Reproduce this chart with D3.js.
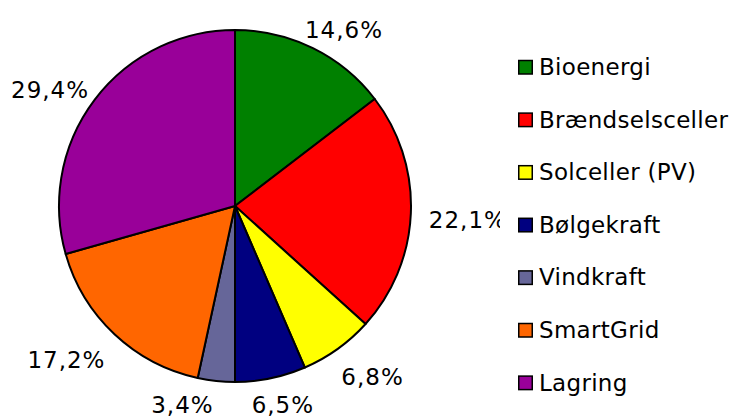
<!DOCTYPE html>
<html>
<head>
<meta charset="utf-8">
<script src="https://cdn.jsdelivr.net/npm/d3@7"></script>
<style>
  body { margin: 0; background: #fff; }
  svg { display: block; }
  text { font-family: "DejaVu Sans", Verdana, sans-serif; fill: #000; }
</style>
</head>
<body>
<svg id="chart" width="729" height="417"></svg>
<script>
// chart data
const categories = ["Bioenergi", "Brændselsceller", "Solceller (PV)", "Bølgekraft", "Vindkraft", "SmartGrid", "Lagring"];
const shares = [14.6, 22.1, 6.8, 6.5, 3.4, 17.2, 29.4];
const colors = ["#008000", "#ff0000", "#ffff00", "#000080", "#666699", "#ff6600", "#990099"];

const svg = d3.select("#chart");
const W = 729, H = 417;
const cx = 235, cy = 206, radius = 176;
const fontSize = 23;

const pie = d3.pie().sort(null).value(d => d.value);
const arc = d3.arc().innerRadius(0).outerRadius(radius);

const data = categories.map((c, i) => ({ name: c, value: shares[i], color: colors[i] }));
const arcs = pie(data);

// the plot area ends before the legend, labels get clipped there
svg.append("clipPath").attr("id", "plotclip")
  .append("rect").attr("x", -cx).attr("y", -cy).attr("width", 500).attr("height", H);

const g = svg.append("g").attr("transform", `translate(${cx},${cy})`);

g.selectAll("path")
  .data(arcs)
  .join("path")
  .attr("d", arc)
  .attr("fill", d => d.data.color)
  .attr("stroke", "#000")
  .attr("stroke-width", 2)
  .attr("stroke-linejoin", "round");

// labels: box pushed out from the mid-angle point just outside the edge
const fmt = v => v.toFixed(1).replace(".", ",") + "%";
const clamp = v => Math.max(-1, Math.min(1, v));
const boxes = [];

g.append("g")
  .attr("clip-path", "url(#plotclip)")
  .selectAll("text.lbl")
  .data(arcs)
  .join("text")
  .attr("class", "lbl")
  .attr("font-size", fontSize)
  .attr("letter-spacing", 1)
  .attr("text-anchor", "middle")
  .attr("dominant-baseline", "central")
  .text(d => fmt(d.data.value))
  .each(function(d) {
    const a = (d.startAngle + d.endAngle) / 2;
    const w = this.getComputedTextLength();
    const s = Math.sin(a), c = -Math.cos(a);
    const r = radius + 13;
    let x = r * s + clamp(s * 1.3) * (w / 2 + 5);
    let y = r * c + c * 14 + 6;
    y = Math.min(y, H - 12 - cy);
    x = Math.max(x, 11 - cx + w / 2); // stay inside the chart area

    // keep some room from the previous label
    const prev = boxes[boxes.length - 1];
    const gap = 38;
    if (prev && Math.abs(y - prev.y) < 22) {
      const need = (w + prev.w) / 2 + gap - Math.abs(x - prev.x);
      if (need > 0) x += (x < prev.x ? -need : need);
    }
    boxes.push({ x, y, w });
    d3.select(this).attr("x", x).attr("y", y);
  });

// legend
const legend = svg.append("g").attr("transform", "translate(518,67)");
const rowH = 52.6;
const rows = legend.selectAll("g")
  .data(data)
  .join("g")
  .attr("transform", (d, i) => `translate(0,${i * rowH})`);

rows.append("rect")
  .attr("x", 0.75)
  .attr("y", -6.5)
  .attr("width", 13.5)
  .attr("height", 13.5)
  .attr("fill", d => d.color)
  .attr("stroke", "#000")
  .attr("stroke-width", 1.5);

rows.append("text")
  .attr("x", 21)
  .attr("y", 0)
  .attr("dominant-baseline", "central")
  .attr("font-size", fontSize)
  .attr("letter-spacing", 0.3)
  .text(d => d.name);
</script>
</body>
</html>
